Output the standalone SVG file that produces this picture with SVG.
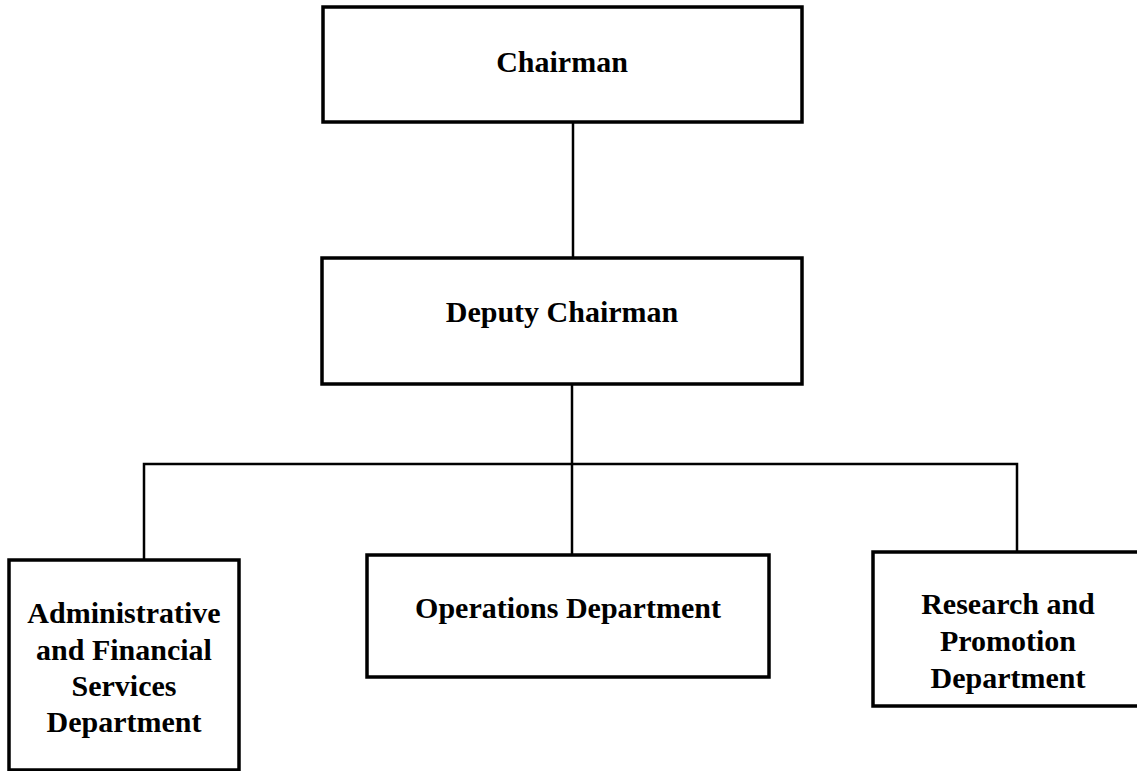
<svg xmlns="http://www.w3.org/2000/svg" width="1137" height="771" viewBox="0 0 1137 771">
<style>
.box{fill:#fff;stroke:#000;stroke-width:3.5}
.t{font-family:"Liberation Serif","Times New Roman",serif;font-weight:bold;font-size:30px;fill:#000;text-anchor:middle}
.c{fill:none;stroke:#000;stroke-width:2.5}
</style>
<rect width="1137" height="771" fill="#fff"/>
<g id="connectors">
<line class="c" x1="573" y1="122" x2="573" y2="257"/>
<line class="c" x1="572" y1="384" x2="572" y2="555"/>
<polyline class="c" points="144,560 144,464 1017,464 1017,552"/>
</g>
<g id="chairman">
<rect class="box" x="323" y="7" width="479" height="115"/>
<text class="t" x="562" y="72">Chairman</text>
</g>
<g id="deputy">
<rect class="box" x="322" y="258" width="480" height="126"/>
<text class="t" x="562" y="322">Deputy Chairman</text>
</g>
<g id="admin">
<rect class="box" x="9" y="560" width="230" height="210"/>
<text class="t" x="124" y="623">Administrative</text>
<text class="t" x="124" y="660">and Financial</text>
<text class="t" x="124" y="696">Services</text>
<text class="t" x="124" y="732">Department</text>
</g>
<g id="operations">
<rect class="box" x="367" y="555" width="402" height="122"/>
<text class="t" x="568" y="618">Operations Department</text>
</g>
<g id="research">
<rect class="box" x="873" y="552" width="272" height="154"/>
<text class="t" x="1008" y="614">Research and</text>
<text class="t" x="1008" y="651">Promotion</text>
<text class="t" x="1008" y="688">Department</text>
</g>
</svg>
